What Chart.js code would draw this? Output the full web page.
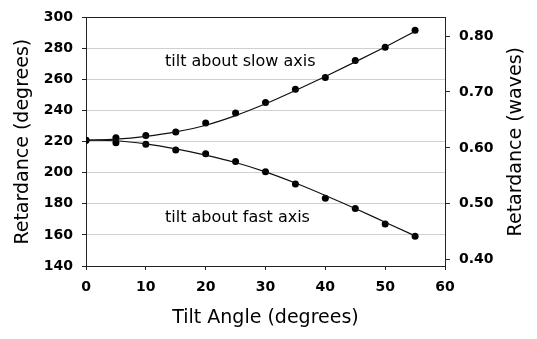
<!DOCTYPE html>
<html>
<head>
<meta charset="utf-8">
<script src="https://cdn.jsdelivr.net/npm/chart.js@4"></script>
<style>
  html, body { margin: 0; padding: 0; background: #fff; }
  canvas { display: block; }
</style>
</head>
<body>
<canvas id="retardanceChart" width="537" height="339"></canvas>
<script>
// tilt angle in degrees
const tiltAngles = [0, 5, 10, 15, 20, 25, 30, 35, 40, 45, 50, 55];

// measured retardance (degrees)
const slowMeasured = [221, 222.5, 224, 226.3, 232, 238.5, 245.2, 253.7, 261.3, 272.3, 280.8, 291.8];
const fastMeasured = [221, 219.4, 218.3, 214.6, 212.2, 207.3, 200.6, 192.7, 183.6, 177, 167.1, 159.2];

// fitted curves
const slowFit = [221, 221.6, 223.4, 226.3, 230.6, 236.8, 244.4, 253, 262, 271.4, 281, 291];
const fastFit = [221, 220.6, 218.6, 215.4, 211.4, 206.6, 200.6, 193.4, 185.4, 177, 168.2, 159.4];

const waveTicks = [0.4, 0.5, 0.6, 0.7, 0.8];
const degreeMin = 140;
const degreeMax = 300;

const labels = [
  { text: "tilt about slow axis", x: 13.2, y: 271.4 },
  { text: "tilt about fast axis", x: 13.2, y: 170.8 },
];
const rightTitle = "Retardance (waves)";

const fontFamily = "'DejaVu Sans', sans-serif";
const axisColor = "#222";

function toPoints(values) {
  return tiltAngles.map((angle, i) => ({ x: angle, y: values[i] }));
}

function lineSet(values) {
  return {
    data: toPoints(values),
    showLine: true,
    borderColor: "#111",
    borderWidth: 1.2,
    pointRadius: 0,
    fill: false,
    cubicInterpolationMode: "monotone",
  };
}

function dotSet(values) {
  return {
    data: toPoints(values),
    showLine: false,
    pointRadius: 3.5,
    pointBackgroundColor: "#000",
    pointBorderColor: "#000",
    pointBorderWidth: 0,
  };
}

// text inside the plot, plus the right title (it reads bottom-to-top like the left one)
const textLabels = {
  id: "textLabels",
  afterDraw(chart) {
    const { ctx, scales, chartArea } = chart;
    ctx.save();
    ctx.font = `16px ${fontFamily}`;
    ctx.fillStyle = "#000";
    ctx.textAlign = "left";
    ctx.textBaseline = "middle";
    labels.forEach((label) => {
      ctx.fillText(label.text, scales.x.getPixelForValue(label.x), scales.y.getPixelForValue(label.y));
    });

    ctx.font = `19px ${fontFamily}`;
    ctx.textAlign = "center";
    ctx.translate(516, (chartArea.top + chartArea.bottom) / 2);
    ctx.rotate(-Math.PI / 2);
    ctx.fillText(rightTitle, 0, 0);
    ctx.restore();
  },
};

const tickFont = { family: fontFamily, size: 14, weight: "bold" };

new Chart(document.getElementById("retardanceChart"), {
  type: "scatter",
  data: {
    datasets: [lineSet(slowFit), lineSet(fastFit), dotSet(slowMeasured), dotSet(fastMeasured)],
  },
  plugins: [textLabels],
  options: {
    responsive: false,
    animation: false,
    devicePixelRatio: 1,
    layout: { padding: 0 },
    plugins: {
      legend: { display: false },
      tooltip: { enabled: false },
    },
    scales: {
      x: {
        type: "linear",
        position: "bottom",
        min: 0,
        max: 60,
        ticks: { stepSize: 10, color: "#000", padding: 9, font: tickFont },
        grid: { drawOnChartArea: false, drawTicks: true, tickLength: 4, tickColor: axisColor },
        border: { color: axisColor, width: 1 },
        title: {
          display: true,
          text: "Tilt Angle (degrees)",
          color: "#000",
          font: { family: fontFamily, size: 19 },
          padding: { top: 0, bottom: 10 },
        },
        afterFit(scale) { scale.height = 73; },
      },
      x2: {
        type: "linear",
        position: "top",
        min: 0,
        max: 60,
        ticks: { display: false },
        grid: { display: false, drawTicks: false },
        border: { display: true, color: axisColor, width: 1 },
        afterFit(scale) { scale.height = 14; },
      },
      y: {
        type: "linear",
        position: "left",
        min: degreeMin,
        max: degreeMax,
        ticks: { stepSize: 20, color: "#000", padding: 9, font: tickFont },
        grid: { color: "#d0d0d0", tickColor: axisColor, tickLength: 4 },
        border: { color: axisColor, width: 1 },
        title: {
          display: true,
          text: "Retardance (degrees)",
          color: "#000",
          font: { family: fontFamily, size: 19 },
          padding: { top: 12, bottom: 0 },
        },
        afterFit(scale) { scale.width = 86; },
      },
      y2: {
        type: "linear",
        position: "right",
        min: degreeMin / 360,
        max: degreeMax / 360,
        afterBuildTicks(scale) {
          scale.ticks = waveTicks.map((value) => ({ value }));
        },
        ticks: {
          color: "#000",
          padding: 9,
          font: tickFont,
          callback: (value) => value.toFixed(2),
        },
        grid: { drawOnChartArea: false, tickColor: axisColor, tickLength: 5 },
        border: { color: axisColor, width: 1 },
        afterFit(scale) { scale.width = 92; },
      },
    },
  },
});
</script>
</body>
</html>
